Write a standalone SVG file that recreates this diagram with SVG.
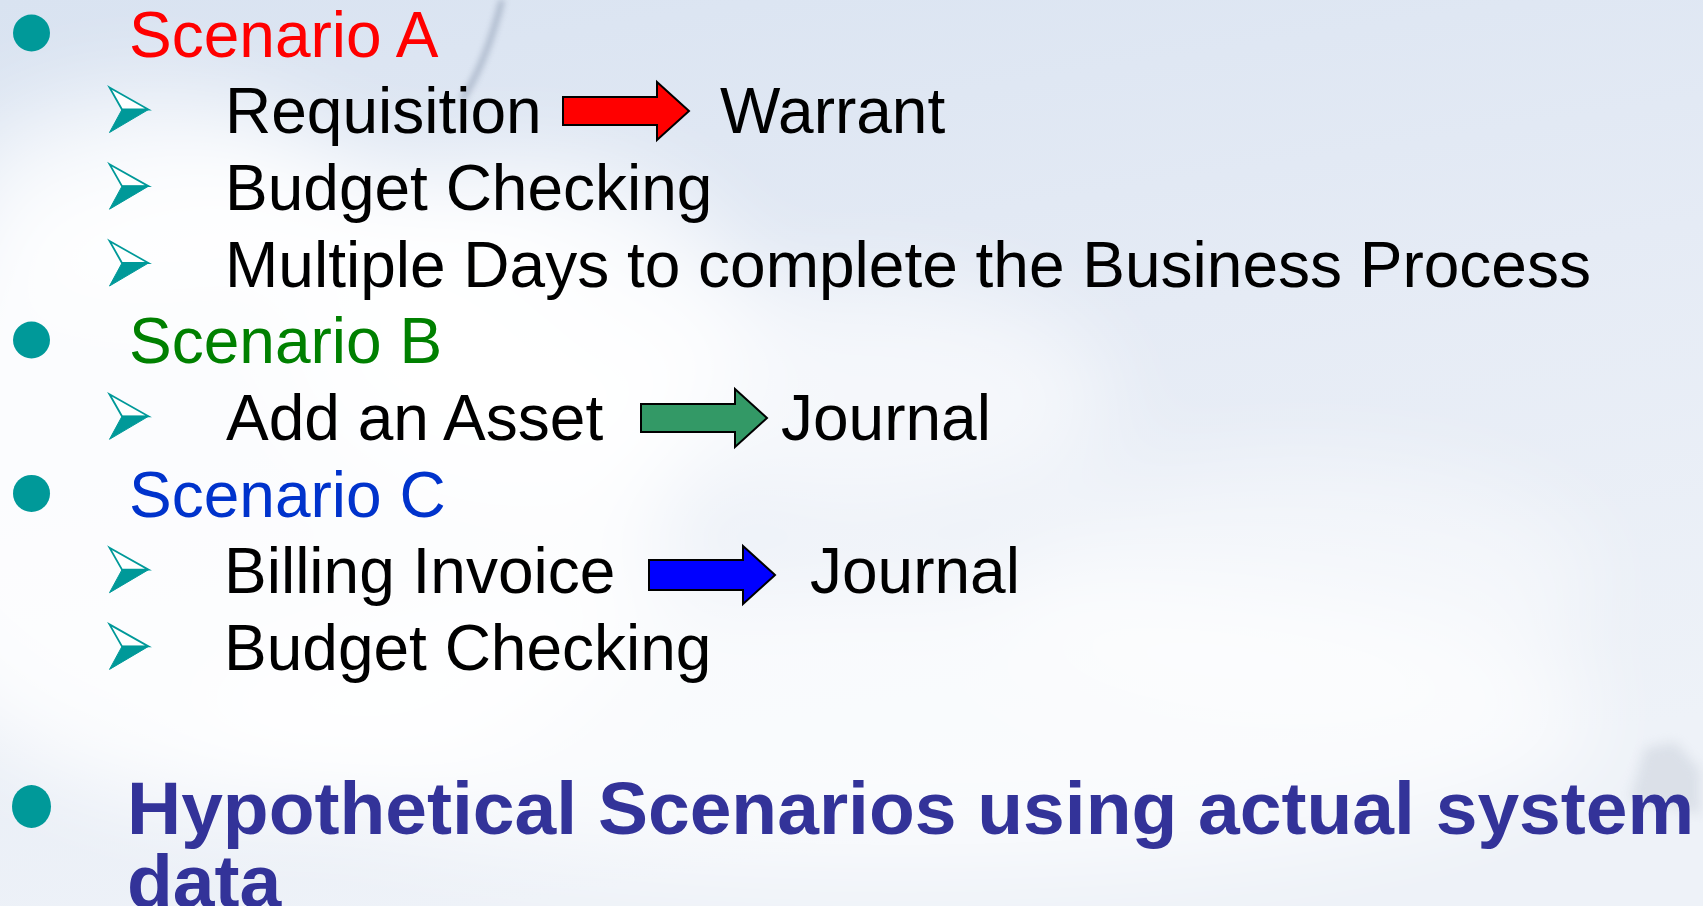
<svg xmlns="http://www.w3.org/2000/svg" width="1703" height="906" viewBox="0 0 1703 906">
<defs>
<style>
.t{font-family:"Liberation Sans",Arial,sans-serif;font-size:64px;fill:#000}
.h{font-family:"Liberation Sans",Arial,sans-serif;font-size:64px}
.big{font-family:"Liberation Sans",Arial,sans-serif;font-size:75px;font-weight:bold;fill:#333399}
.dot{fill:#009999}
.arr{stroke:#000;stroke-width:2;stroke-linejoin:miter}
</style>
<linearGradient id="sky" x1="0" y1="0" x2="0.3" y2="1">
<stop offset="0" stop-color="#d9e3f1"/>
<stop offset="0.5" stop-color="#e5ebf5"/>
<stop offset="1" stop-color="#eef2f8"/>
</linearGradient>
<filter id="blur" x="-50%" y="-50%" width="200%" height="200%"><feGaussianBlur stdDeviation="45"/></filter>
<filter id="blur2" x="-50%" y="-50%" width="200%" height="200%"><feGaussianBlur stdDeviation="3"/></filter>
<filter id="blur3" x="-50%" y="-50%" width="200%" height="200%"><feGaussianBlur stdDeviation="6"/></filter>
<g id="sb">
<path d="M0,0 L39,22 L12.5,22 Z" fill="#ffffff" stroke="#009999" stroke-width="1.8" stroke-linejoin="miter"/>
<path d="M0,45 L39,22 L12.5,22 Z" fill="#009999" stroke="#009999" stroke-width="1"/>
</g>
</defs>
<g id="background">
<rect x="0" y="0" width="1703" height="906" fill="url(#sky)"/>
<g filter="url(#blur)" fill="#ffffff">
<ellipse cx="260" cy="480" rx="420" ry="330" opacity="0.85"/>
<ellipse cx="520" cy="330" rx="230" ry="170" opacity="0.8"/>
<ellipse cx="150" cy="200" rx="200" ry="110" opacity="0.7"/>
<ellipse cx="850" cy="400" rx="260" ry="120" opacity="0.6"/>
<ellipse cx="900" cy="720" rx="700" ry="150" opacity="0.7"/>
<ellipse cx="1300" cy="580" rx="300" ry="120" opacity="0.45"/>
</g>
<path d="M502,0 C492,40 478,75 462,100" fill="none" stroke="#7f8ea6" stroke-width="5" opacity="0.6" filter="url(#blur2)"/>
<path d="M1630,800 L1645,748 L1675,742 L1700,770 L1700,815 L1680,808 Z" fill="#b8c0cc" opacity="0.35" filter="url(#blur3)"/>
</g>
<g id="scenario-a">
<circle class="dot" cx="31.5" cy="33" r="18.5"/>
<text class="h" x="129" y="56.5" fill="#ff0000">Scenario A</text>
</g>
<g id="requisition">
<use href="#sb" x="109.5" y="87.5"/>
<text class="t" x="225" y="133">Requisition</text>
</g>
<g id="warrant">
<text class="t" x="720" y="133">Warrant</text>
</g>
<g id="budget-a">
<use href="#sb" x="109.5" y="164.2"/>
<text class="t" x="225" y="210">Budget Checking</text>
</g>
<g id="multiple-days">
<use href="#sb" x="109.5" y="241"/>
<text class="t" x="225" y="286.6">Multiple Days to complete the Business Process</text>
</g>
<g id="scenario-b">
<circle class="dot" cx="31.5" cy="340" r="18.5"/>
<text class="h" x="129" y="363.3" fill="#008000">Scenario B</text>
</g>
<g id="add-asset">
<use href="#sb" x="109.5" y="394.3"/>
<text class="t" x="226" y="440">Add an Asset</text>
</g>
<g id="journal-b">
<text class="t" x="781" y="440">Journal</text>
</g>
<g id="scenario-c">
<circle class="dot" cx="31.5" cy="493.4" r="18.5"/>
<text class="h" x="129" y="516.7" fill="#0033cc">Scenario C</text>
</g>
<g id="billing-invoice">
<use href="#sb" x="109.5" y="547.7"/>
<text class="t" x="224" y="593.4">Billing Invoice</text>
</g>
<g id="journal-c">
<text class="t" x="810" y="593.4">Journal</text>
</g>
<g id="budget-c">
<use href="#sb" x="109.5" y="624.4"/>
<text class="t" x="224" y="670">Budget Checking</text>
</g>
<g id="hypothetical">
<ellipse class="dot" cx="31.5" cy="806.5" rx="19.5" ry="21.5"/>
<text class="big" x="127" y="834">Hypothetical Scenarios using actual system</text>
<text class="big" x="127" y="907">data</text>
</g>
<g id="connectors">
<path class="arr" fill="#ff0000" d="M563,97 L657,97 L657,82 L689,111 L657,140 L657,125 L563,125 Z"/>
<path class="arr" fill="#339966" d="M641,404 L735,404 L735,389 L767,418 L735,447 L735,432 L641,432 Z"/>
<path class="arr" fill="#0000ff" d="M649,560 L743,560 L743,546 L775,575 L743,604 L743,590 L649,590 Z"/>
</g>
</svg>
